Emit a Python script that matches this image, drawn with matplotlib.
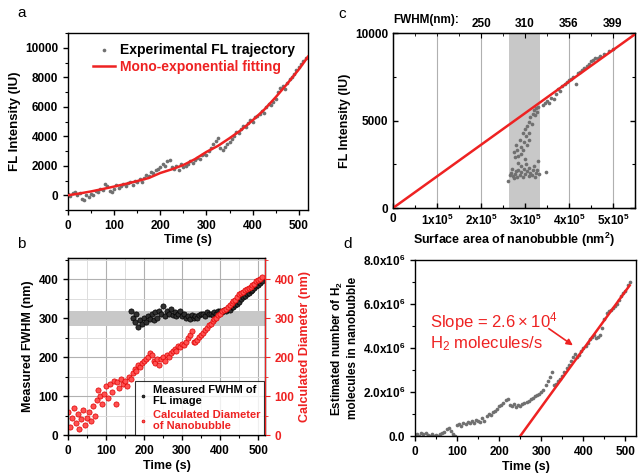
import matplotlib
matplotlib.use("Agg")
import matplotlib.pyplot as plt
from matplotlib.ticker import MultipleLocator, FixedLocator
import numpy as np

plt.rcParams['font.family'] = ['Liberation Sans', 'DejaVu Sans']
plt.rcParams['mathtext.default'] = 'regular'

# ---------------- data ----------------
# Panel a: FL trajectory (time s, intensity IU)
a_time = list(range(0, 520, 5))
a_int = [100, -50, 150, 200, 50, 150, -250, -300, 0, -100, 100, 50, 300, 200, 400, 350,
         750, 600, 300, 200, 450, 700, 500, 600, 750, 650, 800, 900, 700, 1000, 900, 1100,
         900, 1200, 1400, 1300, 1600, 1500, 1700, 1800, 1900, 2100, 2000, 2300, 2400, 1900,
         1800, 2000, 1700, 2100, 1900, 2000, 2100, 2300, 2200, 2400, 2500, 2450, 2700, 2800,
         2700, 3000, 3200, 3500, 3700, 3900, 3200, 3100, 3300, 3500, 3600, 3800, 4000, 4300,
         4200, 4500, 4700, 4600, 4900, 5100, 5000, 5300, 5400, 5500, 5700, 5600, 6000, 6200,
         6100, 6300, 6500, 7000, 7300, 7400, 7200, 7600, 7900, 8000, 8200, 8500, 8700, 8900,
         9100, 9300]
# mono-exponential fit
fit_time = [0, 25, 50, 75, 100, 125, 150, 175, 200, 225, 250, 275, 300, 325, 350, 375,
            400, 425, 450, 475, 500, 520]
fit_int = [0, 120, 260, 420, 590, 770, 960, 1170, 1510, 1760, 2050, 2450, 2940, 3350,
           3870, 4420, 5080, 5800, 6650, 7560, 8530, 9400]

# Panel b: FWHM (black) and calculated diameter (red)
b_fwhm_time = list(range(165, 515, 5))
b_fwhm = [318, 300, 290, 310, 278, 295, 285, 300, 290, 305, 298, 310, 295, 315, 300, 320,
          310, 332, 305, 318, 310, 325, 308, 315, 305, 312, 320, 305, 310, 300, 306, 298,
          308, 302, 305, 300, 308, 310, 312, 306, 315, 310, 312, 308, 315, 312, 318, 320,
          316, 322, 320, 325, 322, 330, 328, 335, 338, 342, 350, 355, 358, 362, 365, 370,
          372, 378, 382, 386, 390, 395]
b_diam_time = list(range(0, 515, 5))
b_diam = [60, 20, 45, 70, 30, 55, 15, 40, 65, 25, 45, 60, 35, 75, 50, 90, 115, 100, 80, 105,
          125, 95, 130, 110, 140, 80, 135, 120, 145, 130, 140, 125, 150, 145, 160, 170, 165,
          180, 175, 185, 190, 195, 200, 210, 205, 190, 185, 195, 180, 195, 200, 190, 205, 200,
          210, 215, 220, 215, 228, 225, 235, 232, 240, 250, 258, 268, 240, 238, 245, 252, 258,
          262, 270, 275, 282, 285, 292, 298, 302, 308, 312, 318, 322, 325, 328, 335, 340, 345,
          348, 355, 362, 365, 368, 372, 375, 378, 380, 385, 388, 395, 398, 402, 406]
b_band = [280, 320]

# Panel c: FL intensity vs surface area (x in units of 1e5 nm^2)
c_area = [2.62, 2.65, 2.68, 2.72, 2.75, 2.78, 2.80, 2.82, 2.85, 2.88, 2.90, 2.92, 2.95, 2.98,
          3.00, 3.02, 3.05, 3.08, 3.10, 3.12, 3.15, 3.18, 3.20, 3.22, 3.25, 3.28, 3.30, 3.32,
          3.48, 2.70, 2.85, 3.00, 2.78,
          2.75, 2.80, 2.82, 2.85, 2.88, 2.90, 2.92, 2.95, 2.98, 3.00, 3.02, 3.05, 3.08, 3.10,
          3.12, 3.15, 3.18, 3.20, 3.22, 3.25, 3.28, 3.30, 3.05, 2.95, 3.10,
          3.40, 3.45, 3.50, 3.55, 3.60, 3.65, 3.70, 3.75, 3.80, 3.85, 3.90, 3.95, 4.00, 4.05,
          4.10, 4.15, 4.20, 4.25, 4.30, 4.35, 4.40, 4.45, 4.50, 4.55, 4.60, 4.65, 4.70, 4.80,
          4.90, 5.00]
c_int = [1550, 1900, 2000, 1850, 1700, 1950, 2100, 1800, 2200, 1900, 2400, 2050, 1750, 2250,
         1950, 2500, 2100, 1850, 2300, 2000, 1900, 2150, 2400, 1800, 2000, 2200, 2700, 1950,
         2050, 2250, 2600, 2800, 2900,
         3200, 3600, 3300, 3000, 3900, 3500, 3100, 4300, 3800, 4500, 4100, 4700, 4300, 4900,
         5200, 4800, 5400, 5600, 5300, 5700, 5500, 5800, 3600, 3300, 3900,
         5900, 6000, 6100, 6000, 6300, 6250, 6500, 6800, 6700, 7000, 7100, 7200, 7300, 7400,
         7500, 7100, 7700, 7800, 7900, 8000, 8100, 8250, 8400, 8450, 8600, 8550, 8700, 8800,
         8950, 9100]
c_line_x = [0, 5.5]
c_line_y = [0, 9930]
c_band = [2.64, 3.34]
c_top_pos = [2, 3, 4, 5]
c_top_labels = ['250', '310', '356', '399']

# Panel d: estimated number of H2 molecules (units of 1e6)
d_time = list(range(0, 515, 5))
d_num = [0.05, 0.10, 0.00, 0.12, 0.08, 0.15, 0.05, 0.00, 0.10, 0.00, 0.05, 0.02, 0.08, 0.15,
         0.20, 0.30, 0.35, 0.25, 0.10, 0.00, 0.50, 0.55, 0.45, 0.60, 0.55, 0.65, 0.60, 0.70,
         0.60, 0.75, 0.70, 0.65, 0.80, 0.70, 0.90, 1.00, 0.95, 1.10, 1.15, 1.25, 1.35, 1.40,
         1.50, 1.65, 1.70, 1.40, 1.35, 1.45, 1.30, 1.40, 1.35, 1.45, 1.50, 1.55, 1.60, 1.70,
         1.75, 1.80, 1.85, 1.90, 2.00, 2.10, 2.30, 2.50, 2.70, 2.90, 2.30, 2.35, 2.50, 2.60,
         2.75, 2.90, 3.10, 3.25, 3.40, 3.60, 3.75, 3.60, 3.70, 3.85, 4.00, 4.10, 4.25, 4.40,
         4.50, 4.60, 4.45, 4.50, 4.60, 4.90, 5.30, 5.60, 5.70, 5.75, 5.80, 5.90, 6.00, 6.20,
         6.35, 6.50, 6.60, 6.85, 7.00]
d_line_t = [250, 510]
d_line_n = [0.0, 6.85]

# ---------------- styling ----------------
RED = '#ee2222'
GRAY = '#707070'
TICK_FS = 8.5
LAB_FS = 9

fig = plt.figure(figsize=(6.38, 4.75), dpi=100)

def style_ticks(ax):
    ax.tick_params(axis='both', which='major', length=3.5, width=1, labelsize=TICK_FS)
    ax.tick_params(axis='both', which='minor', length=2, width=0.8)
    for lab in ax.get_xticklabels() + ax.get_yticklabels():
        lab.set_fontweight('bold')
    for s in ax.spines.values():
        s.set_linewidth(1.0)

# ---------------- panel a ----------------
axa = fig.add_axes([0.1066, 0.5579, 0.3762, 0.3726])
axa.scatter(a_time, a_int, s=7, color=GRAY, lw=0, zorder=2,
            label='Experimental FL trajectory')
axa.plot(fit_time, fit_int, color=RED, lw=1.8, zorder=3, label='Mono-exponential fitting')
axa.set_xlim(0, 520)
axa.set_ylim(-1000, 11000)
axa.xaxis.set_major_locator(MultipleLocator(100))
axa.xaxis.set_minor_locator(MultipleLocator(50))
axa.yaxis.set_major_locator(FixedLocator([0, 2000, 4000, 6000, 8000, 10000]))
axa.yaxis.set_minor_locator(MultipleLocator(1000))
axa.set_xlabel('Time (s)', fontsize=LAB_FS, fontweight='bold', labelpad=2)
axa.set_ylabel('FL Intensity (IU)', fontsize=9.5, fontweight='bold', labelpad=3)
style_ticks(axa)
leg = axa.legend(loc='upper left', bbox_to_anchor=(0.105, 0.945), frameon=False,
                 prop={'weight': 'bold', 'size': 10}, handlelength=1.6, markerscale=1.0,
                 borderaxespad=0.0, borderpad=0.0, labelspacing=0.25, handletextpad=0.35)
leg.get_texts()[1].set_color(RED)
fig.text(0.028, 0.965, 'a', fontsize=11)

# ---------------- panel b ----------------
axb = fig.add_axes([0.1066, 0.0842, 0.3088, 0.3726])
axb.set_xlim(0, 518)
axb.set_ylim(0, 455)
axb.xaxis.set_major_locator(MultipleLocator(100))
axb.xaxis.set_minor_locator(MultipleLocator(50))
axb.yaxis.set_major_locator(MultipleLocator(100))
axb.yaxis.set_minor_locator(MultipleLocator(50))
axb.grid(which='major', color='#b0b0b0', lw=0.8, zorder=0)
axb.grid(which='minor', color='#dddddd', lw=0.7, zorder=0)
axb.set_axisbelow(True)
axb.axhspan(b_band[0], b_band[1], color='#c8c8c8', zorder=1, lw=0)
axb.scatter(b_fwhm_time, b_fwhm, s=14, facecolor='#303030', edgecolor='#000000', lw=0.5,
            zorder=3, label='Measured FWHM of\nFL image')
axb.scatter(b_diam_time, b_diam, s=14, facecolor='#ff5050', edgecolor='#dd0000', lw=0.5,
            zorder=4, label='Calculated Diameter\nof Nanobubble')
axb.set_xlabel('Time (s)', fontsize=LAB_FS, fontweight='bold', labelpad=2)
axb.set_ylabel('Measured FWHM (nm)', fontsize=LAB_FS, fontweight='bold', labelpad=3)
style_ticks(axb)
axb2 = axb.twinx()
axb2.set_ylim(0, 455)
axb2.yaxis.set_major_locator(MultipleLocator(100))
axb2.yaxis.set_minor_locator(MultipleLocator(50))
axb2.tick_params(axis='y', which='major', length=3.5, colors=RED, labelsize=TICK_FS)
axb2.tick_params(axis='y', which='minor', length=2, colors=RED)
for lab in axb2.get_yticklabels():
    lab.set_fontweight('bold')
axb2.spines['right'].set_color(RED)
axb2.set_ylabel('Calculated Diameter (nm)', fontsize=LAB_FS, fontweight='bold', color=RED,
                labelpad=3)
legb = axb.legend(loc='lower right', bbox_to_anchor=(0.995, 0.0), frameon=True, fancybox=False,
                  edgecolor='black', prop={'weight': 'bold', 'size': 8}, handlelength=0.6,
                  markerscale=0.55, handletextpad=0.6, borderpad=0.35, labelspacing=0.3,
                  borderaxespad=0.0)
legb.get_frame().set_linewidth(0.8)
legb.get_texts()[1].set_color(RED)
legb.set_zorder(10)
fig.text(0.026, 0.478, 'b', fontsize=11)

# ---------------- panel c ----------------
axc = fig.add_axes([0.616, 0.5621, 0.3793, 0.3684])
axc.set_xlim(0, 5.5)
axc.set_ylim(0, 10000)
for xv in [1, 2, 3, 4, 5]:
    axc.axvline(xv, color='#b0b0b0', lw=0.8, zorder=0)
axc.axvspan(c_band[0], c_band[1], color='#c8c8c8', lw=0, zorder=1)
axc.scatter(c_area, c_int, s=7, color=GRAY, lw=0, zorder=2)
axc.plot(c_line_x, c_line_y, color=RED, lw=1.8, zorder=3)
axc.xaxis.set_major_locator(FixedLocator([0, 1, 2, 3, 4, 5]))
axc.set_xticklabels(['0', '1x10$^5$', '2x10$^5$', '3x10$^5$', '4x10$^5$', '5x10$^5$'])
axc.xaxis.set_minor_locator(MultipleLocator(0.5))
axc.yaxis.set_major_locator(FixedLocator([0, 5000, 10000]))
axc.yaxis.set_minor_locator(MultipleLocator(2500))
axc.tick_params(axis='both', which='both', direction='in', top=False, right=True)
axc.set_xlabel('Surface area of nanobubble (nm$^2$)', fontsize=LAB_FS, fontweight='bold',
               labelpad=2)
axc.set_ylabel('FL Intensity (IU)', fontsize=LAB_FS, fontweight='bold', labelpad=3)
style_ticks(axc)
axct = axc.twiny()
axct.set_xlim(0, 5.5)
axct.xaxis.set_major_locator(FixedLocator(c_top_pos))
axct.set_xticklabels(c_top_labels, fontweight='bold', fontsize=TICK_FS)
axct.xaxis.set_minor_locator(MultipleLocator(0.5))
axct.tick_params(axis='x', which='both', direction='in', pad=2)
axct.tick_params(axis='x', which='major', length=3.5)
axct.tick_params(axis='x', which='minor', length=2)
fig.text(0.617, 0.951, 'FWHM(nm):', fontsize=TICK_FS, fontweight='bold', ha='left')
fig.text(0.53, 0.963, 'c', fontsize=11)

# ---------------- panel d ----------------
axd = fig.add_axes([0.6505, 0.0821, 0.3464, 0.3705])
axd.scatter(d_time, d_num, s=7, color=GRAY, lw=0, zorder=2)
axd.plot(d_line_t, d_line_n, color=RED, lw=1.8, zorder=3)
axd.set_xlim(0, 525)
axd.set_ylim(0, 8.0)
axd.xaxis.set_major_locator(MultipleLocator(100))
axd.xaxis.set_minor_locator(MultipleLocator(50))
axd.yaxis.set_major_locator(FixedLocator([0, 2, 4, 6, 8]))
axd.set_yticklabels(['0.0', '2.0x10$^6$', '4.0x10$^6$', '6.0x10$^6$', '8.0x10$^6$'])
axd.yaxis.set_minor_locator(MultipleLocator(1))
axd.set_xlabel('Time (s)', fontsize=LAB_FS, fontweight='bold', labelpad=2)
axd.set_ylabel('Estimated number of H$_2$\nmolecules in nanobubble', fontsize=8.5,
               fontweight='bold', labelpad=3)
style_ticks(axd)
axd.annotate('', xy=(375, 4.12), xytext=(318, 4.88),
             arrowprops=dict(arrowstyle='-|>', color=RED, lw=1.2, mutation_scale=9,
                             shrinkA=0, shrinkB=0))
axd.text(36, 5.72, 'Slope = 2.6\u2009\u00d7\u200910$^4$\nH$_2$ molecules/s', color=RED,
         fontsize=12, va='top', ha='left', linespacing=1.1)
fig.text(0.538, 0.478, 'd', fontsize=11)

fig.savefig('out.png', dpi=100)
